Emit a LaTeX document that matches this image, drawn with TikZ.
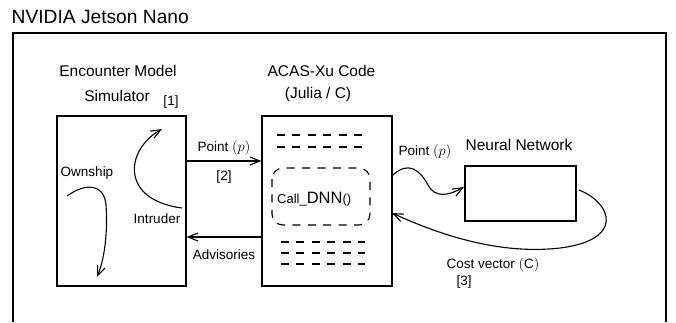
\documentclass[tikz,border=0pt]{standalone}
\usepackage{fontspec}
\setmainfont{Liberation Sans}
\usetikzlibrary{arrows.meta}
\begin{document}
\begin{tikzpicture}[x=1pt,y=-1pt,
  lw/.style={line width=1.1pt},
  boxed/.style={draw,line width=1.1pt,inner sep=0pt},
  dashline/.style={line width=1.1pt,dash pattern=on 8pt off 7.4pt},
  conn/.style={line width=1.1pt,-{Straight Barb[length=10pt,width=8pt,line width=1.1pt]}},
  head/.style={font=\fontsize{15.5}{18}\selectfont,inner sep=0pt},
  lab/.style={font=\fontsize{13.5}{16}\selectfont,inner sep=0pt},
  title/.style={font=\fontsize{19.2}{22}\selectfont,inner sep=0pt}]
\useasboundingbox (0,0) rectangle (676,322);
\fill[white] (0,0) rectangle (676,322);
% frame
\draw[lw] (13,322) -- (13,33) -- (666,33) -- (666,322);
\node[title,anchor=base west] (ttl) at (11.5,23.3) {NVIDIA Jetson Nano};
% boxes
\node[boxed,minimum width=129pt,minimum height=170pt] (sim) at (121.5,201) {};
\node[boxed,minimum width=130pt,minimum height=170pt] (acas) at (327,201) {};
\node[boxed,minimum width=111pt,minimum height=55pt] (nn) at (520.5,193.5) {};
% headers
\node[head,anchor=base] (em) at (118,76) {Encounter Model};
\node[head,anchor=base] (simt) at (117,101) {Simulator};
\node[lab,anchor=base] (r1) at (171,105) {[1]};
\node[head,anchor=base] (acast) at (321.5,76) {ACAS-Xu Code};
\node[head,anchor=base] (jc) at (318,98) {(Julia / C)};
\node[head,anchor=base] (nnt) at (519,150) {Neural Network};
% left arrows
\coordinate (pa) at (0,161);
\coordinate (aa) at (0,237);
\draw[conn] (sim.east |- pa) -- (acas.west |- pa);
\draw[conn] (acas.west |- aa) -- (sim.east |- aa);
\node[lab,anchor=base] (p1) at (224,151) {Point $(p)$};
\node[lab,anchor=base] (r2) at (224,180) {[2]};
\node[lab,anchor=base] (adv) at (224,259) {Advisories};
% simulator content
\node[lab,anchor=base] (own) at (87,176.5) {Ownship};
\node[lab,anchor=base] (intr) at (157,223.5) {Intruder};
\coordinate (o1) at (67,196);
\coordinate (o2) at (97,277);
\draw[conn] (o1) .. controls (85,183) and (104,183) .. (106,205)
  .. controls (108,235) and (104,260) .. (o2);
\coordinate (i1) at (182,208);
\coordinate (i2) at (162,129);
\draw[conn] (i1) .. controls (120,200) and (125,150) .. (i2);
% ACAS content
\draw[dashline] (277,135) -- (362,135);
\draw[dashline] (277,147) -- (362,147);
\draw[dashline] (281,242) -- (365,242);
\draw[dashline] (281,253) -- (365,253);
\draw[dashline] (281,264) -- (365,264);
\draw[dashline,rounded corners=11pt] (272,168) rectangle (370,225);
\node[anchor=base west,inner sep=0pt] (call) at (277,203)
  {\fontsize{13}{16}\selectfont Call\_\fontsize{16.5}{18}\selectfont DNN\fontsize{13}{16}\selectfont ()};
% right side connectors
\coordinate (w1) at (392,176);
\coordinate (w2) at (464,187);
\draw[conn] (w1) .. controls (408,160) and (420,170) .. (428,185)
  .. controls (435,198) and (448,196) .. (w2);
\node[lab,anchor=base] (p2) at (425,155) {Point $(p)$};
\coordinate (c1) at (579,190);
\coordinate (c2) at (392,213);
\draw[conn] (c1) .. controls (612,203) and (625,240) .. (560,248)
  .. controls (500,255) and (440,235) .. (c2);
\node[lab,anchor=base] (cv) at (493,268) {Cost vector $(\mathrm{C})$};
\node[lab,anchor=base] (r3) at (464,285) {[3]};
\end{tikzpicture}
\end{document}
